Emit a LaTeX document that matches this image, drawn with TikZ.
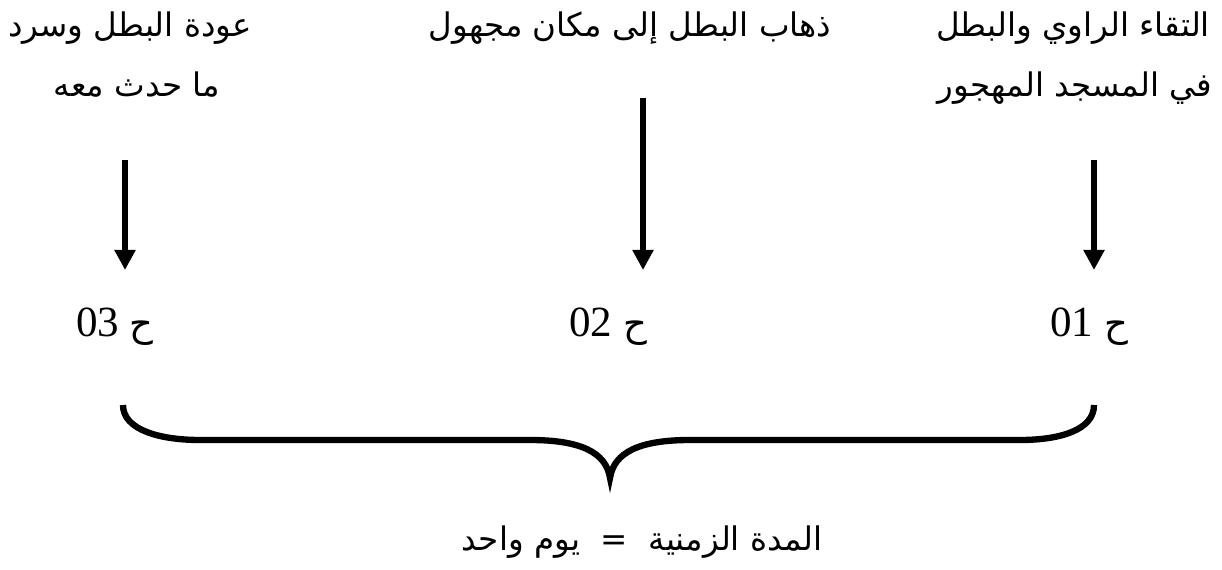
\documentclass[tikz,border=0pt]{standalone}
\usepackage{fontspec}
\setmainfont{Liberation Serif}
\newfontfamily\arabicfont[Script=Arabic]{DejaVu Sans}
\TeXXeTstate=1
\usetikzlibrary{arrows.meta,positioning}

\tikzset{
  artext/.style={font=\arabicfont\fontsize{18.5}{22}\selectfont, anchor=base, inner sep=0pt},
  hlabel/.style={font=\fontsize{24.5}{28}\selectfont, anchor=base, inner sep=0pt},
  downarrow/.style={line width=3.3pt, -{Triangle[width=11.5pt,length=11.5pt]}},
  bracestyle/.style={line width=3.6pt, line cap=butt}
}

\begin{document}
\begin{tikzpicture}[x=0.02cm, y=-0.02cm]
  \useasboundingbox (0,0) rectangle (1222,570);

  % الأحداث
  \node[artext] (t1) at (1073,37) {\beginR التقاء الراوي والبطل\endR};
  \node[artext] (t1b) at (1075,97) {\beginR في المسجد المهجور\endR};
  \node[artext] (t2) at (630,37) {\beginR ذهاب البطل إلى مكان مجهول\endR};
  \node[artext] (t3) at (130,37) {\beginR عودة البطل وسرد\endR};
  \node[artext] (t3b) at (137,97) {\beginR ما حدث معه\endR};

  % الحلقات
  \foreach \i/\x in {1/1089, 2/608, 3/115} {
    \node[hlabel] (h\i) at (\x,337) {\beginR{\arabicfont\fontsize{21}{24}\selectfont ح} \beginL 0\i\endL\endR};
  }

  % الأسهم
  \foreach \i/\x/\y in {1/1094/160, 2/643/98, 3/125/160} {
    \coordinate (s\i) at (\x,\y);
    \coordinate (e\i) at (\x,270);
    \draw[downarrow] (s\i) -- (e\i);
  }

  % القوس
  \draw[bracestyle] (123,405) .. controls (123,430) and (160,440) .. (200,440)
    -- (530,440) .. controls (580,440) and (606,452) .. (610,478)
    .. controls (614,452) and (640,440) .. (690,440)
    -- (1020,440) .. controls (1060,440) and (1094,430) .. (1094,405);

  % المدة
  \node[artext] (dur) at (642,550) {\beginR المدة الزمنية \ = \ يوم واحد\endR};
\end{tikzpicture}
\end{document}
